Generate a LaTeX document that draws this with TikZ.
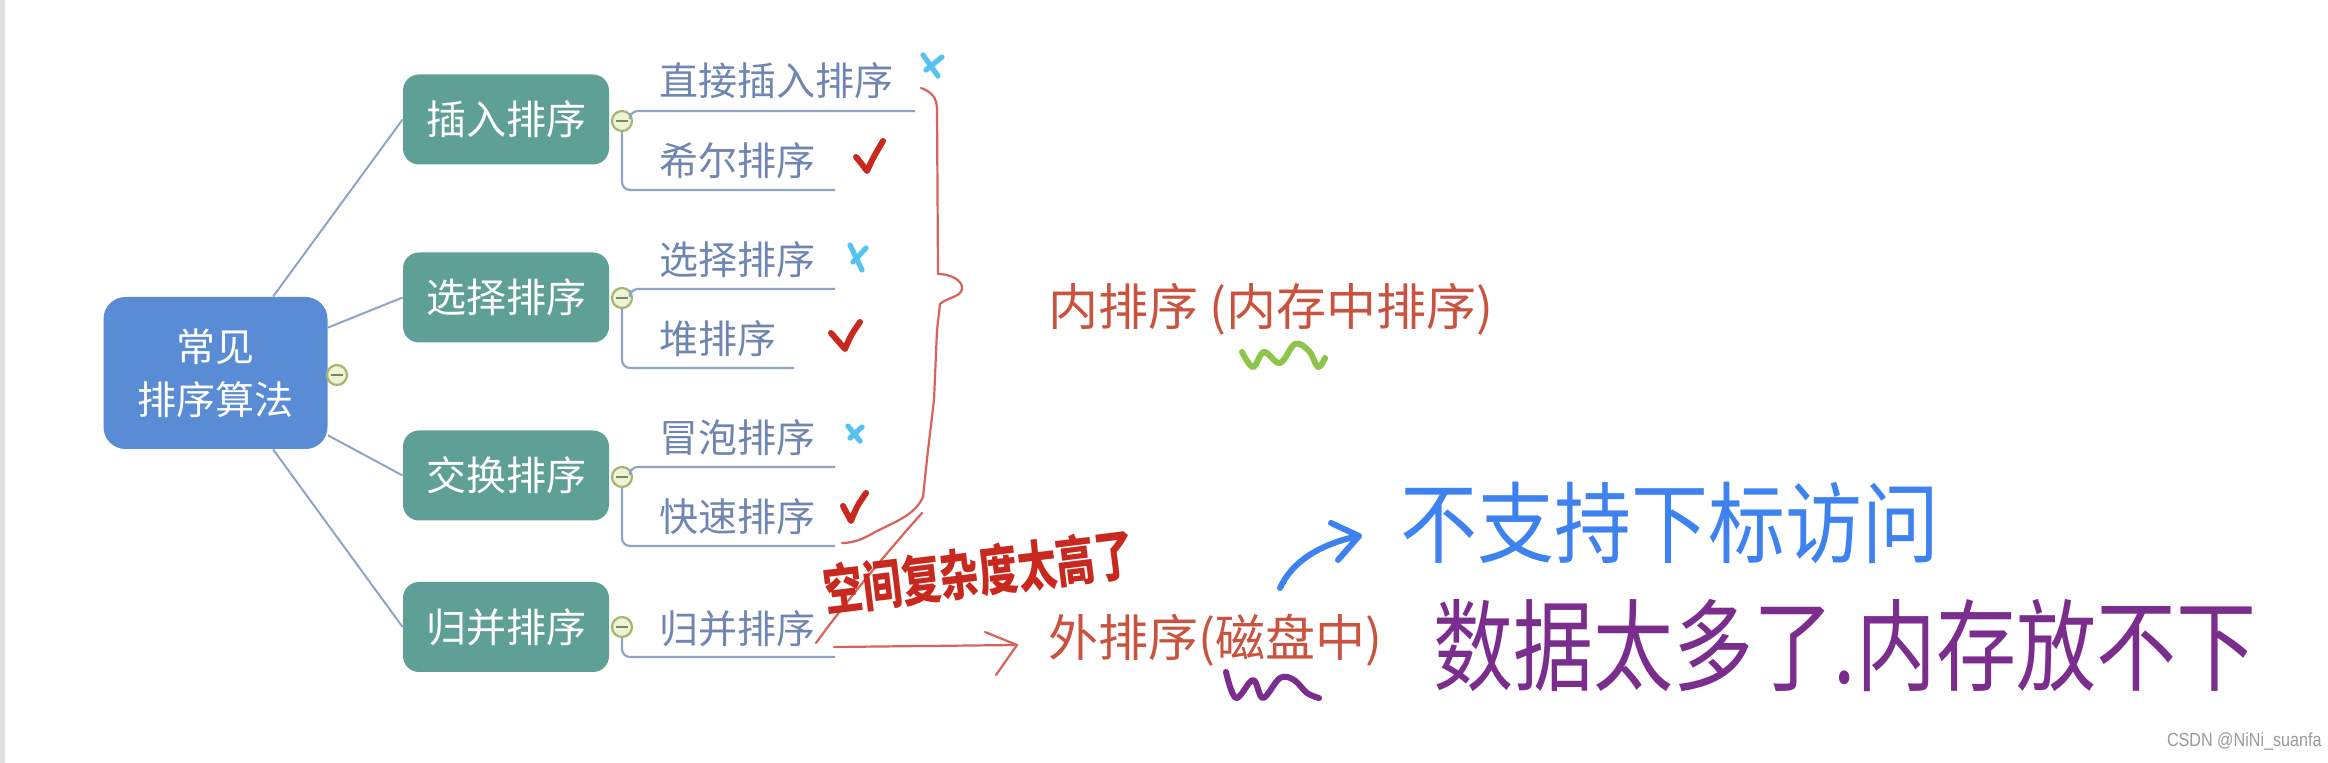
\documentclass[tikz,border=0pt]{standalone}
\usepackage{fontspec}
\setmainfont{Noto Sans CJK SC}
\newfontfamily\wmfont{Liberation Sans}
\usetikzlibrary{calc}
\definecolor{rootblue}{HTML}{5A8CD6}
\definecolor{catteal}{HTML}{5FA096}
\definecolor{leafblue}{HTML}{6F85B2}
\definecolor{linkblue}{HTML}{8EA5C8}
\definecolor{togline}{HTML}{A9B46E}
\definecolor{togfill}{HTML}{EEF2D6}
\definecolor{togminus}{HTML}{7E8A55}
\definecolor{labred}{HTML}{C9533F}
\definecolor{penred}{HTML}{C8281E}
\definecolor{thinred}{HTML}{D8635A}
\definecolor{penblue}{HTML}{3E82F0}
\definecolor{penpurple}{HTML}{7B2D8E}
\definecolor{pengreen}{HTML}{8CC44C}
\definecolor{xblue}{HTML}{56C2F0}
\definecolor{wmgray}{HTML}{9A9A9A}
\tikzset{
  rootbox/.style={fill=rootblue, text=white, rounded corners=11pt, minimum width=112pt, minimum height=76pt, align=center, inner sep=0pt, font=\fontsize{19.5}{26.5}\selectfont},
  catbox/.style={fill=catteal, text=white, rounded corners=8pt, minimum width=103pt, minimum height=45pt, inner sep=0pt, font=\fontsize{20}{24}\selectfont},
  leaf/.style={text=leafblue, anchor=west, inner sep=0pt, font=\fontsize{19.5}{24}\selectfont},
  tog/.style={circle, draw=togline, fill=togfill, line width=1.1pt, minimum size=10pt, inner sep=0pt,
    path picture={\draw[togminus, line width=1.1pt] ([xshift=-2.8pt]path picture bounding box.center) -- ([xshift=2.8pt]path picture bounding box.center);}},
  link/.style={draw=linkblue, line width=1pt},
  uline/.style={draw=linkblue, line width=1.1pt, rounded corners=4pt},
  redlab/.style={text=labred, anchor=west, inner sep=0pt, font=\fontsize{25}{30}\selectfont},
  checkmark/.style={draw=penred, line width=3pt, line cap=round, line join=round},
  xmark/.style={draw=xblue, line width=2.6pt, line cap=round},
  thinpen/.style={draw=thinred, line width=1.1pt, line cap=round, line join=round},
}
\begin{document}
\begin{tikzpicture}[x=0.5pt,y=-0.5pt]
\useasboundingbox (0,0) rectangle (2328,763);
\fill[white] (0,0) rectangle (2328,763);
\fill[black!12] (0,0) rectangle (5,763);

% root and categories
\node[rootbox] (root) at (215.5,373) {常见\\排序算法};
\node[tog] (rt) at (337,375) {};
\node[catbox] (c1) at (506,119.5) {插入排序};
\node[catbox] (c2) at (506,297.5) {选择排序};
\node[catbox] (c3) at (506,475.5) {交换排序};
\node[catbox] (c4) at (506,627) {归并排序};
\draw[link] (root.53) -- (c1.west);
\draw[link] (root.22) -- (c2.west);
\draw[link] (root.-29.5) -- (c3.west);
\draw[link] (root.-53.5) -- (c4.west);

\node[tog] (t1) at (622,121) {};
\node[tog] (t2) at (622,298) {};
\node[tog] (t3) at (622,477) {};
\node[tog] (t4) at (622,627) {};

% leaves
\node[leaf] (l11) at (659,81) {直接插入排序};
\node[leaf] (l12) at (659,161) {希尔排序};
\node[leaf] (l21) at (659,260) {选择排序};
\node[leaf] (l22) at (659,339) {堆排序};
\node[leaf] (l31) at (659,438) {冒泡排序};
\node[leaf] (l32) at (659,517) {快速排序};
\node[leaf] (l41) at (659,629) {归并排序};

\coordinate (u11) at (915,111);
\coordinate (u12) at (835,190);
\coordinate (u21) at (835,289);
\coordinate (u22) at (794,368);
\coordinate (u31) at (835,467);
\coordinate (u32) at (835,546);
\coordinate (u41) at (835,657);
\draw[uline] (t1.north east) |- (u11);
\draw[uline] (t1.south) |- (u12);
\draw[uline] (t2.north east) |- (u21);
\draw[uline] (t2.south) |- (u22);
\draw[uline] (t3.north east) |- (u31);
\draw[uline] (t3.south) |- (u32);
\draw[uline] (t4.south) |- (u41);

% check marks
\draw[checkmark] (856,157) .. controls (861,163) .. (867,171) .. controls (873,158) .. (883,141);
\draw[checkmark] (831,333) .. controls (838,341) .. (845,349) .. controls (851,335) .. (860,322);
\draw[checkmark] (843,506) .. controls (847,514) .. (851,521) .. controls (857,506) .. (866,493);
% x marks
\draw[xmark] (923,55) -- (938,76);
\draw[xmark] (942,57) -- (926,70);
\draw[xmark] (850,245) -- (862,270);
\draw[xmark] (866,248) -- (853,262);
\draw[xmark] (848,426) -- (860,441);
\draw[xmark] (862,427) -- (850,438);

% labels
\node[redlab] (inner) at (1048,309) {内排序 (内存中排序)};
\node[redlab] (outer) at (1048,640) {外排序(磁盘中)};

% red brace
\draw[thinpen] (921,88) .. controls (932,92) and (937,98) .. (937,110) -- (938,274)
  .. controls (950,274) and (963,280) .. (962,289) .. controls (961,297) and (946,298) .. (940,304)
  -- (937,330) -- (934,400) -- (928,450) -- (923,497)
  .. controls (915,515) and (895,522) .. (875,532) .. controls (862,540) and (852,543) .. (842,543);
\draw[thinpen] (922,513) .. controls (880,560) and (840,610) .. (816,643);
\coordinate (arrS) at (834,647);
\coordinate (arrT) at (1017,645);
\draw[thinpen] (arrS) -- (arrT);
\draw[thinpen] (985,632) -- (arrT) -- (996,675);

% handwriting
\node[text=penred, rotate=7, inner sep=0pt, font=\fontsize{19.5}{20}\selectfont\bfseries] (hw1) at (979,572) {\scalebox{1}[1.4]{空间复杂度太高了}};
\node[text=penblue, inner sep=0pt, font=\fontsize{38.5}{40}\selectfont] (hw2) at (1670,523) {\scalebox{1}[1.15]{不支持下标访问}};
\node[text=penpurple, inner sep=0pt, font=\fontsize{40}{42}\selectfont] (hw3) at (1845,646) {\scalebox{1}[1.25]{数据太多了.内存放不下}};

\draw[penblue, line width=3pt, line cap=round, line join=round] (1280,588) .. controls (1292,562) and (1318,545) .. (1358,536);
\draw[penblue, line width=3pt, line cap=round, line join=round] (1331,523) -- (1359,536) -- (1338,560);

% squiggles
\draw[pengreen, line width=3pt, line cap=round, line join=round] plot[smooth, tension=0.6] coordinates {(1242,352) (1253,367) (1264,352) (1280,363) (1295,344) (1309,351) (1318,367) (1325,358)};
\draw[penpurple, line width=3pt, line cap=round, line join=round] plot[smooth, tension=0.6] coordinates {(1226,672) (1236,698) (1253,680) (1263,698) (1280,678) (1294,680) (1307,693) (1319,698)};

% watermark
\node[text=wmgray, anchor=east, inner sep=0pt, font=\wmfont\fontsize{9.5}{11}\selectfont] (wm) at (2322,742) {\scalebox{0.85}[1]{CSDN @NiNi\_suanfa}};
\end{tikzpicture}
\end{document}
